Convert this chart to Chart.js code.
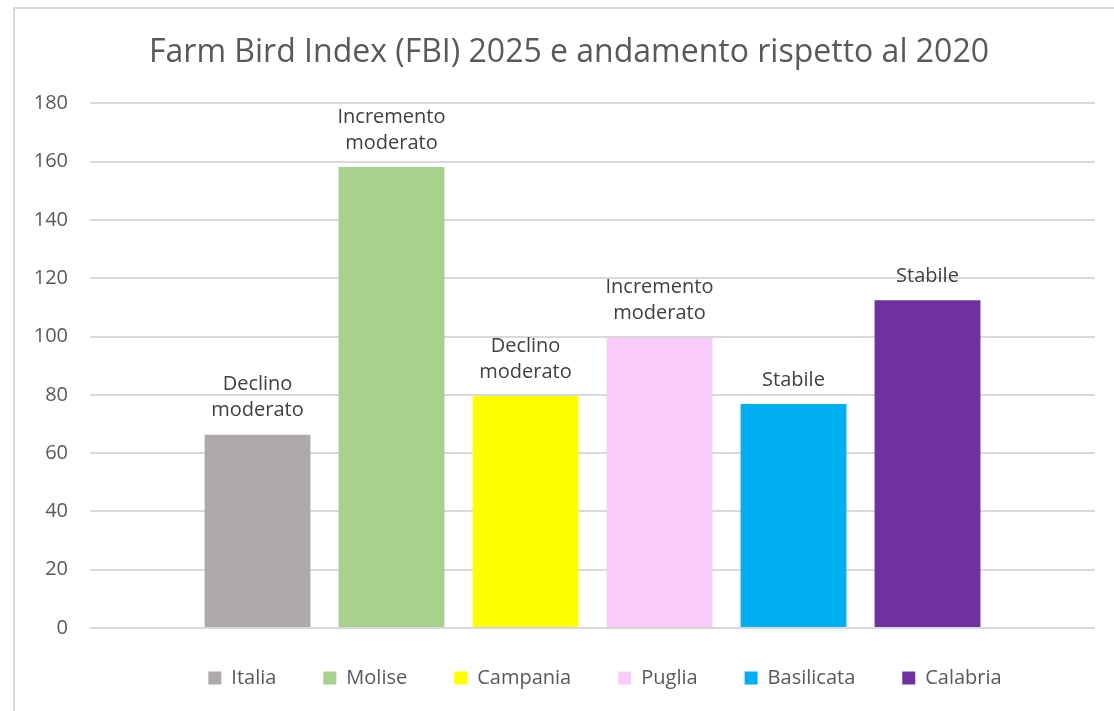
<!DOCTYPE html>
<html>
<head>
<meta charset="utf-8">
<script src="https://cdn.jsdelivr.net/npm/chart.js@4"></script>
<style>
  html, body { margin: 0; padding: 0; background: #fff; overflow: hidden; }
  #frame { position: absolute; left: 13px; top: 7px; width: 1200px; height: 800px; border: 2px solid #d9d9d9; }
  #wrap { position: absolute; left: 0; top: 0; width: 1114px; height: 711px; }
</style>
</head>
<body>
<div id="frame"></div>
<div id="wrap"><canvas id="fbi-chart"></canvas></div>
<script>
// Dati
var regions = ['Italia', 'Molise', 'Campania', 'Puglia', 'Basilicata', 'Calabria'];
var fbiValues = [66.3, 158.2, 79.6, 99.6, 76.9, 112.5];
var trendLabels = [
  ['Declino', 'moderato'],
  ['Incremento', 'moderato'],
  ['Declino', 'moderato'],
  ['Incremento', 'moderato'],
  ['Stabile'],
  ['Stabile']
];
var barColors = ['#AEAAAA', '#A9D18E', '#FFFF00', '#F9CBFA', '#00B0F0', '#7030A0'];
var yMin = 0, yMax = 180, yStep = 20;

var FONT = '"Open Sans"';

// one dataset per region, all in a single category (like Excel)
var datasets = regions.map(function (r, i) {
  return {
    label: r,
    data: [fbiValues[i]],
    backgroundColor: barColors[i],
    borderWidth: 0,
    categoryPercentage: 0.80,
    barPercentage: 0.79
  };
});

// text above each bar
var trendLabelPlugin = {
  id: 'trendLabels',
  afterDatasetsDraw: function (chart) {
    var ctx = chart.ctx;
    ctx.save();
    ctx.font = '20px ' + FONT;
    ctx.fillStyle = '#404040';
    ctx.textAlign = 'center';
    ctx.textBaseline = 'middle';
    chart.data.datasets.forEach(function (ds, i) {
      var bar = chart.getDatasetMeta(i).data[0];
      var lines = trendLabels[i];
      lines.forEach(function (line, j) {
        ctx.fillText(line, bar.x, bar.y - 24 - (lines.length - 1 - j) * 26);
      });
    });
    ctx.restore();
  }
};

// nudge legend + title like in the excel picture
var shiftPlugin = {
  id: 'shiftBoxes',
  afterLayout: function (chart) {
    var lg = chart.legend;
    lg.left += 41; lg.right += 41;
    lg.top -= 7; lg.bottom -= 7;
    var tb = chart.titleBlock;
    if (tb) { tb.left += 5; tb.right += 5; }
  }
};

var ctx = document.getElementById('fbi-chart').getContext('2d');
var chart = new Chart(ctx, {
  type: 'bar',
  data: {
    labels: [''],
    datasets: datasets
  },
  plugins: [trendLabelPlugin, shiftPlugin],
  options: {
    responsive: true,
    maintainAspectRatio: false,
    animation: false,
    layout: { padding: { left: 33, right: 19, top: 0, bottom: 6 } },
    plugins: {
      title: {
        display: true,
        text: 'Farm Bird Index (FBI) 2025 e andamento rispetto al 2020',
        color: '#595959',
        font: { family: FONT, size: 32, weight: 'normal' },
        padding: { top: 34, bottom: 31 }
      },
      legend: {
        position: 'bottom',
        labels: {
          color: '#595959',
          font: { family: FONT, size: 20 },
          boxWidth: 13,
          boxHeight: 13,
          padding: 47
        }
      },
      tooltip: { enabled: false }
    },
    scales: {
      x: { display: false },
      y: {
        min: yMin,
        max: yMax,
        afterFit: function (scale) { scale.width = 57; },
        ticks: {
          stepSize: yStep,
          color: '#595959',
          font: { family: FONT, size: 20 },
          padding: 22
        },
        grid: { color: '#d9d9d9', lineWidth: 2, drawTicks: false },
        border: { display: false }
      }
    }
  }
});
</script>
</body>
</html>
